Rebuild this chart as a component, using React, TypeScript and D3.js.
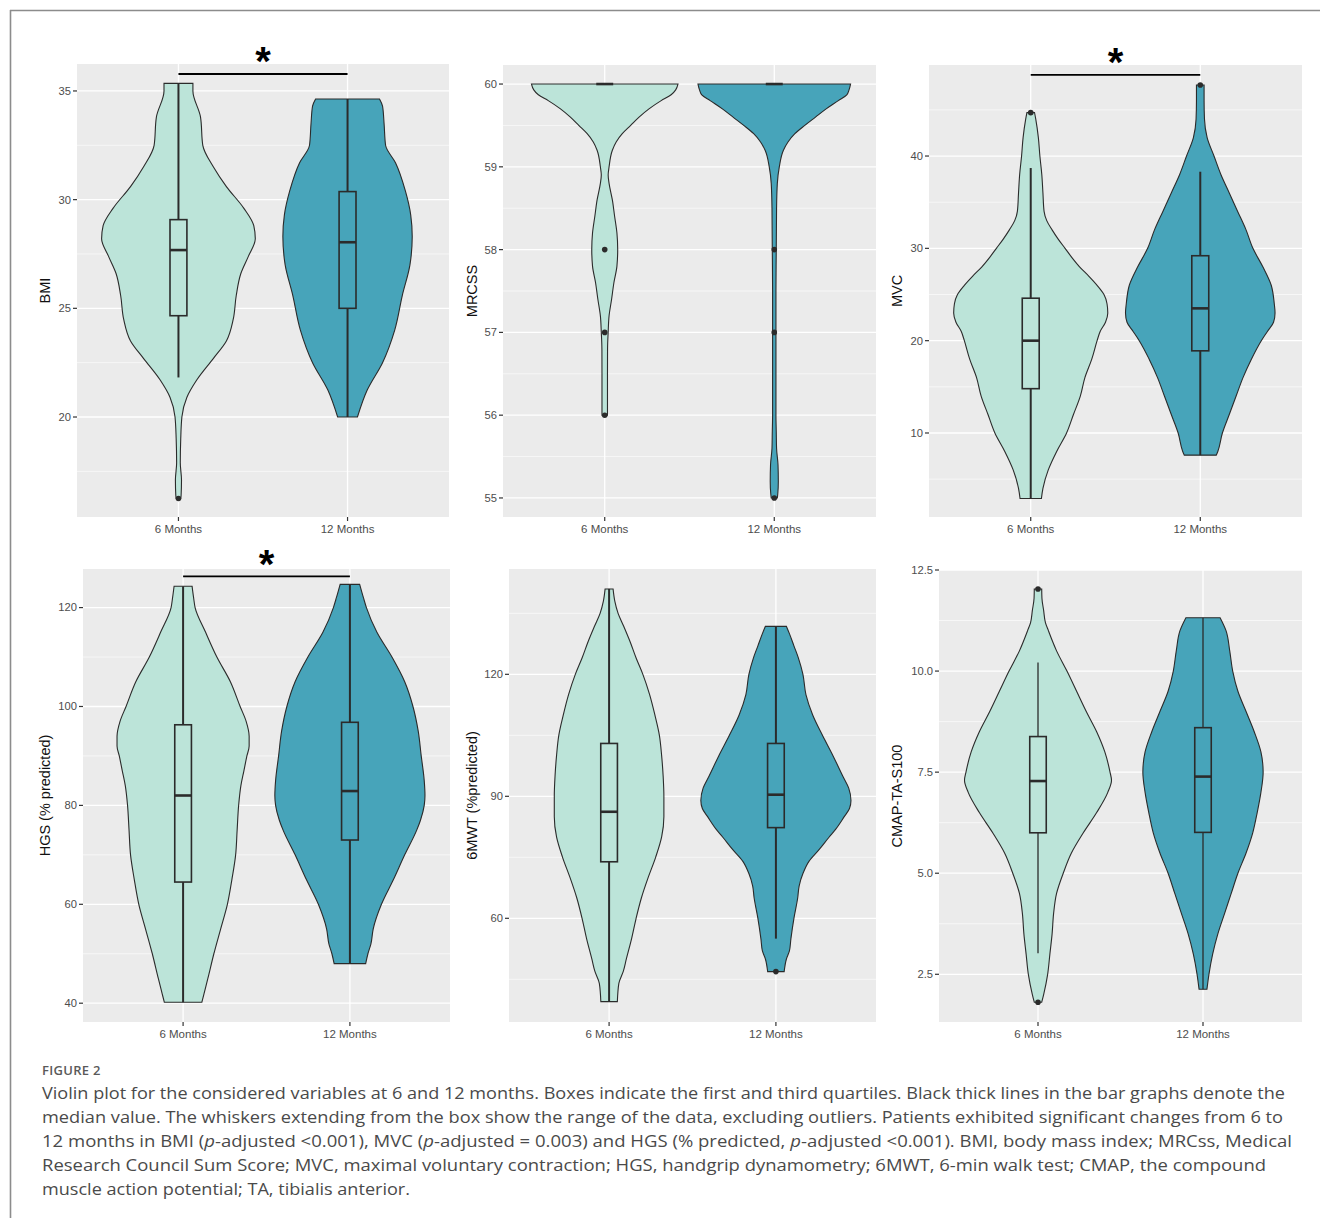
import React from 'react';
import * as d3 from 'd3';

const GROUPS = ['6 Months', '12 Months'];
const FILLS = ['#bce4d9', '#47a4ba'];

// violin outlines: [value, relative half-width (1 = full width)]
const bmi6 = [[35.35, 0.19], [35.0, 0.19], [33.8, 0.29], [32.5, 0.32], [31.5, 0.46], [30.6, 0.63], [29.6, 0.86], [28.8, 0.99], [28.2, 1.01], [27.4, 0.92], [26.6, 0.82], [25.6, 0.76], [24.5, 0.72], [23.5, 0.63], [22.7, 0.46], [21.7, 0.24], [20.9, 0.11], [20.0, 0.045], [19.0, 0.03], [17.9, 0.024], [17.1, 0.04], [16.4, 0.035], [16.25, 0.03]];
const bmi12 = [[34.63, 0.42], [34.3, 0.46], [33.5, 0.48], [32.5, 0.5], [31.7, 0.63], [30.4, 0.76], [29.3, 0.83], [28.3, 0.85], [27.0, 0.82], [25.6, 0.72], [24.0, 0.62], [22.5, 0.46], [21.25, 0.26], [20.0, 0.13]];

const mrcss6 = [[60.0, 0.96], [59.93, 0.93], [59.87, 0.87], [59.8, 0.74], [59.7, 0.58], [59.6, 0.45], [59.5, 0.34], [59.4, 0.23], [59.3, 0.15], [59.2, 0.1], [59.0, 0.057], [58.9, 0.045], [58.8, 0.057], [58.6, 0.1], [58.4, 0.13], [58.2, 0.16], [58.0, 0.17], [57.8, 0.16], [57.6, 0.12], [57.4, 0.09], [57.2, 0.057], [57.0, 0.045], [56.8, 0.037], [56.5, 0.036], [56.2, 0.036], [56.0, 0.036]];
const mrcss12 = [[60.0, 1.0], [59.93, 0.98], [59.87, 0.95], [59.8, 0.84], [59.7, 0.68], [59.6, 0.54], [59.5, 0.4], [59.4, 0.27], [59.3, 0.18], [59.2, 0.12], [59.0, 0.066], [58.8, 0.04], [58.5, 0.03], [58.0, 0.026], [57.5, 0.022], [57.0, 0.022], [56.5, 0.022], [56.0, 0.022], [55.8, 0.026], [55.6, 0.03], [55.4, 0.049], [55.2, 0.053], [55.05, 0.046], [55.0, 0.04]];

const mvc6 = [[44.7, 0.05], [44.0, 0.066], [42, 0.1], [40, 0.12], [38, 0.145], [36, 0.16], [34, 0.175], [33, 0.21], [32, 0.28], [31, 0.36], [30, 0.45], [29, 0.54], [28, 0.64], [27, 0.76], [26, 0.87], [25, 0.96], [24, 1.0], [23, 1.01], [22, 0.98], [21, 0.91], [20, 0.87], [18, 0.8], [16, 0.71], [14, 0.65], [12, 0.56], [10, 0.47], [8, 0.34], [6, 0.23], [4, 0.16], [2.9, 0.14]];
const mvc12 = [[47.7, 0.05], [46, 0.05], [44, 0.055], [42, 0.09], [40, 0.18], [38, 0.27], [36, 0.38], [34, 0.49], [32, 0.6], [30, 0.69], [28, 0.82], [26, 0.93], [24, 0.97], [23, 0.98], [22, 0.96], [21, 0.88], [20, 0.8], [18, 0.67], [16, 0.56], [14, 0.47], [12, 0.38], [10, 0.29], [8, 0.23], [7.6, 0.21]];

const hgs6 = [[124.3, 0.12], [122, 0.14], [120, 0.16], [115, 0.3], [110, 0.45], [105, 0.63], [100, 0.76], [97, 0.84], [94, 0.88], [92, 0.88], [90, 0.85], [87, 0.81], [84, 0.77], [80, 0.74], [75, 0.72], [70, 0.7], [65, 0.65], [60, 0.59], [55, 0.5], [50, 0.41], [45, 0.33], [42, 0.28], [40.2, 0.25]];
const hgs12 = [[124.7, 0.13], [122, 0.18], [120, 0.22], [115, 0.36], [110, 0.56], [105, 0.73], [100, 0.84], [95, 0.91], [90, 0.95], [85, 0.99], [82, 1.0], [80, 0.99], [77, 0.94], [75, 0.89], [70, 0.73], [65, 0.58], [60, 0.42], [55, 0.31], [52, 0.28], [50, 0.24], [48, 0.21]];

const mwt6 = [[141, 0.053], [138, 0.076], [135, 0.12], [132, 0.19], [128, 0.28], [124, 0.36], [120, 0.45], [115, 0.54], [110, 0.61], [105, 0.67], [100, 0.7], [95, 0.72], [90, 0.73], [85, 0.73], [80, 0.7], [75, 0.62], [70, 0.52], [65, 0.43], [60, 0.36], [55, 0.3], [50, 0.23], [47, 0.19], [44, 0.13], [39.5, 0.11]];
const mwt12 = [[131.8, 0.14], [130, 0.18], [127, 0.24], [124, 0.3], [120, 0.36], [115, 0.4], [110, 0.49], [105, 0.62], [100, 0.76], [95, 0.89], [92, 0.97], [89, 1.0], [87, 0.98], [85, 0.91], [82, 0.8], [80, 0.71], [77, 0.58], [74, 0.44], [71, 0.36], [68, 0.31], [65, 0.29], [60, 0.24], [55, 0.2], [52, 0.18], [50, 0.14], [46.9, 0.11]];

const cmap6 = [[12.03, 0.05], [11.8, 0.053], [11.5, 0.076], [11.2, 0.1], [11.0, 0.14], [10.5, 0.25], [10.0, 0.39], [9.5, 0.52], [9.0, 0.65], [8.5, 0.79], [8.0, 0.9], [7.5, 0.97], [7.3, 0.99], [7.0, 0.94], [6.5, 0.79], [6.0, 0.61], [5.5, 0.45], [5.0, 0.34], [4.5, 0.25], [4.0, 0.21], [3.5, 0.19], [3.0, 0.16], [2.5, 0.13], [2.0, 0.076], [1.81, 0.05]];
const cmap12 = [[11.32, 0.23], [11.0, 0.31], [10.5, 0.36], [10.0, 0.4], [9.5, 0.47], [9.0, 0.58], [8.5, 0.69], [8.0, 0.78], [7.5, 0.81], [7.0, 0.78], [6.5, 0.73], [6.0, 0.67], [5.5, 0.58], [5.0, 0.47], [4.5, 0.38], [4.0, 0.29], [3.5, 0.2], [3.0, 0.13], [2.5, 0.08], [2.13, 0.053]];

// box stats: [lower whisker, Q1, median, Q3, upper whisker]
const bmiBox = [[21.82, 24.66, 27.68, 29.08, 35.35], [20.0, 25.0, 28.04, 30.37, 34.63]];
const mrcssBox = [[60, 60, 60, 60, 60], [60, 60, 60, 60, 60]];
const mvcBox = [[2.9, 14.8, 20.0, 24.6, 38.7], [7.6, 18.9, 23.5, 29.2, 38.3]];
const hgsBox = [[40.2, 64.5, 82.0, 96.3, 124.3], [48.0, 73.0, 82.9, 96.8, 124.7]];
const mwtBox = [[39.5, 73.9, 86.2, 103.0, 141.0], [55.0, 82.3, 90.4, 103.0, 131.8]];
const cmapBox = [[3.02, 6.0, 7.28, 8.38, 10.21], [2.13, 6.01, 7.39, 8.6, 11.32]];

// outliers
const bmiOut = [[16.25], []];
const mrcssOut = [[58, 57, 56], [58, 57, 55]];
const mvcOut = [[44.7], [47.7]];
const hgsOut = [[], []];
const mwtOut = [[], [46.9]];
const cmapOut = [[12.03, 1.81], []];

// y-axis ticks
const bmiTicks = [20, 25, 30, 35];
const mrcssTicks = [55, 56, 57, 58, 59, 60];
const mvcTicks = [10, 20, 30, 40];
const hgsTicks = [40, 60, 80, 100, 120];
const mwtTicks = [60, 90, 120];
const cmapTicks = [2.5, 5.0, 7.5, 10.0, 12.5];

const captionLines = [
  [['Violin plot for the considered variables at 6 and 12 months. Boxes indicate the first and third quartiles. Black thick lines in the bar graphs denote the']],
  [['median value. The whiskers extending from the box show the range of the data, excluding outliers. Patients exhibited significant changes from 6 to']],
  [['12 months in BMI ('], ['p', 'i'], ['-adjusted <0.001), MVC ('], ['p', 'i'], ['-adjusted = 0.003) and HGS (% predicted, '], ['p', 'i'], ['-adjusted <0.001). BMI, body mass index; MRCss, Medical']],
  [['Research Council Sum Score; MVC, maximal voluntary contraction; HGS, handgrip dynamometry; 6MWT, 6-min walk test; CMAP, the compound']],
  [['muscle action potential; TA, tibialis anterior.']],
];
const captionWidths = [1243, 1241, 1250, 1224, 368];

const panels = [
  { title: 'BMI', violins: [bmi6, bmi12], boxes: bmiBox, outliers: bmiOut, ticks: bmiTicks, domain: [15.4, 36.24], sig: 35.78,
    box: { left: 77, right: 449, top: 64, bottom: 517 }, titleX: 45, fmt: d3.format('d') },
  { title: 'MRCSS', violins: [mrcss6, mrcss12], boxes: mrcssBox, outliers: mrcssOut, ticks: mrcssTicks, domain: [54.77, 60.23], sig: null,
    box: { left: 503, right: 876, top: 65, bottom: 517 }, titleX: 472, fmt: d3.format('d') },
  { title: 'MVC', violins: [mvc6, mvc12], boxes: mvcBox, outliers: mvcOut, ticks: mvcTicks, domain: [0.9, 49.86], sig: 48.8,
    box: { left: 929, right: 1302, top: 65, bottom: 517 }, titleX: 897, fmt: d3.format('d') },
  { title: 'HGS (% predicted)', violins: [hgs6, hgs12], boxes: hgsBox, outliers: hgsOut, ticks: hgsTicks, domain: [36.2, 127.8], sig: 126.3,
    box: { left: 83, right: 450, top: 569, bottom: 1022 }, titleX: 45, fmt: d3.format('d') },
  { title: '6MWT (%predicted)', violins: [mwt6, mwt12], boxes: mwtBox, outliers: mwtOut, ticks: mwtTicks, domain: [34.5, 145.9], sig: null,
    box: { left: 509, right: 876, top: 569, bottom: 1022 }, titleX: 472, fmt: d3.format('d') },
  { title: 'CMAP-TA-S100', violins: [cmap6, cmap12], boxes: cmapBox, outliers: cmapOut, ticks: cmapTicks, domain: [1.32, 12.5], sig: null,
    box: { left: 939, right: 1302, top: 570, bottom: 1022 }, titleX: 897, fmt: d3.format('.1f'), thinWhisker: true },
];

const INK = '#2b2b2b';
const AXIS_FONT = "'Liberation Sans', Arial, sans-serif";

function Panel({ p }) {
  const { left, right, top, bottom } = p.box;
  const x = d3.scaleLinear().domain([0.4, 2.6]).range([left, right]);
  const y = d3.scaleLinear().domain(p.domain).range([bottom, top]);
  const halfW = d3.scaleLinear().domain([0, 1]).range([0, x(1.45) - x(1)]);
  const boxHalf = x(1.05) - x(1);

  const step = p.ticks[1] - p.ticks[0];
  const minors = d3.range(p.ticks[0] - step / 2, p.ticks[p.ticks.length - 1] + step, step)
    .filter(v => v > p.domain[0] && v < p.domain[1]);

  const violinPath = (pts, cx) => d3.area()
    .y(d => y(d[0]))
    .x0(d => cx - halfW(d[1]))
    .x1(d => cx + halfW(d[1]))
    .curve(d3.curveMonotoneY)(pts);

  const midY = (top + bottom) / 2;

  return (
    <g>
      <rect x={left} y={top} width={right - left} height={bottom - top} fill="#ebebeb" />
      {minors.map(v => (
        <line key={'mn' + v} x1={left} x2={right} y1={y(v)} y2={y(v)} stroke="#fff" strokeWidth={0.6} />
      ))}
      {p.ticks.map(v => (
        <line key={'mj' + v} x1={left} x2={right} y1={y(v)} y2={y(v)} stroke="#fff" strokeWidth={1.3} />
      ))}
      {GROUPS.map((g, i) => (
        <line key={'vx' + g} x1={x(i + 1)} x2={x(i + 1)} y1={top} y2={bottom} stroke="#fff" strokeWidth={1.3} />
      ))}

      {p.violins.map((pts, i) => (
        <path key={'v' + i} d={violinPath(pts, x(i + 1))} fill={FILLS[i]} stroke={INK} strokeWidth={1.1} />
      ))}

      {p.boxes.map((b, i) => {
        const cx = x(i + 1);
        const ww = p.thinWhisker ? 1.3 : 2;
        return (
          <g key={'b' + i}>
            <line x1={cx} x2={cx} y1={y(b[0])} y2={y(b[1])} stroke={INK} strokeWidth={ww} />
            <line x1={cx} x2={cx} y1={y(b[3])} y2={y(b[4])} stroke={INK} strokeWidth={ww} />
            <rect x={cx - boxHalf} y={y(b[3])} width={boxHalf * 2} height={Math.max(0, y(b[1]) - y(b[3]))}
              fill={FILLS[i]} stroke={INK} strokeWidth={1.6} />
            <line x1={cx - boxHalf} x2={cx + boxHalf} y1={y(b[2])} y2={y(b[2])} stroke={INK} strokeWidth={2.6} />
          </g>
        );
      })}

      {p.outliers.map((vals, i) => vals.map(v => (
        <circle key={'o' + i + v} cx={x(i + 1)} cy={y(v)} r={2.8} fill={INK} />
      )))}

      {p.sig != null && (
        <g>
          <line x1={x(1)} x2={x(2)} y1={y(p.sig)} y2={y(p.sig)} stroke="#000" strokeWidth={1.8} />
          <text x={x(1.5)} y={y(p.sig) - 22 + 0.58 * 40} textAnchor="middle" fontSize={40} fontWeight="bold"
            fontFamily={AXIS_FONT} fill="#000">*</text>
        </g>
      )}

      {/* y axis */}
      {p.ticks.map(v => (
        <g key={'yt' + v}>
          <line x1={left - 4} x2={left} y1={y(v)} y2={y(v)} stroke="#333" strokeWidth={1.2} />
          <text x={left - 6} y={y(v)} dy="0.35em" textAnchor="end" fontSize={11.2} fill="#4d4d4d"
            fontFamily={AXIS_FONT}>{p.fmt(v)}</text>
        </g>
      ))}
      {/* x axis */}
      {GROUPS.map((g, i) => (
        <g key={'xt' + g}>
          <line x1={x(i + 1)} x2={x(i + 1)} y1={bottom} y2={bottom + 4} stroke="#333" strokeWidth={1.2} />
          <text x={x(i + 1)} y={bottom + 16} textAnchor="middle" fontSize={11.5} fill="#4d4d4d"
            fontFamily={AXIS_FONT}>{g}</text>
        </g>
      ))}
      <text transform={`translate(${p.titleX},${midY}) rotate(-90)`} textAnchor="middle" dy="0.35em" fontSize={14.5}
        fill="#111" fontFamily={AXIS_FONT}>{p.title}</text>
    </g>
  );
}

export default function App() {
  return (
    <div style={{ position: 'absolute', left: 0, top: 0 }}>
      <svg width={1320} height={1218} style={{ display: 'block', background: '#fff' }}>
        <line x1={10} x2={1320} y1={10.5} y2={10.5} stroke="#8c8c8c" strokeWidth={1.6} />
        <line x1={10.5} x2={10.5} y1={10} y2={1218} stroke="#8c8c8c" strokeWidth={1.6} />

        {panels.map(p => <Panel key={p.title} p={p} />)}

        <text x={42} y={1075} fontSize={13} fill="#5a5a5a" letterSpacing={0.3}
          fontFamily="'Open Sans', sans-serif" fontWeight={600}>FIGURE 2</text>
        {captionLines.map((parts, li) => (
          <text key={'c' + li} x={42} y={1099 + li * 24} fontSize={17} fill="#4a4a4a"
            fontFamily="'Open Sans', sans-serif" textLength={captionWidths[li]} lengthAdjust="spacingAndGlyphs">
            {parts.map((pt, k) => (
              <tspan key={k} fontStyle={pt[1] === 'i' ? 'italic' : 'normal'}>{pt[0]}</tspan>
            ))}
          </text>
        ))}
      </svg>
    </div>
  );
}
